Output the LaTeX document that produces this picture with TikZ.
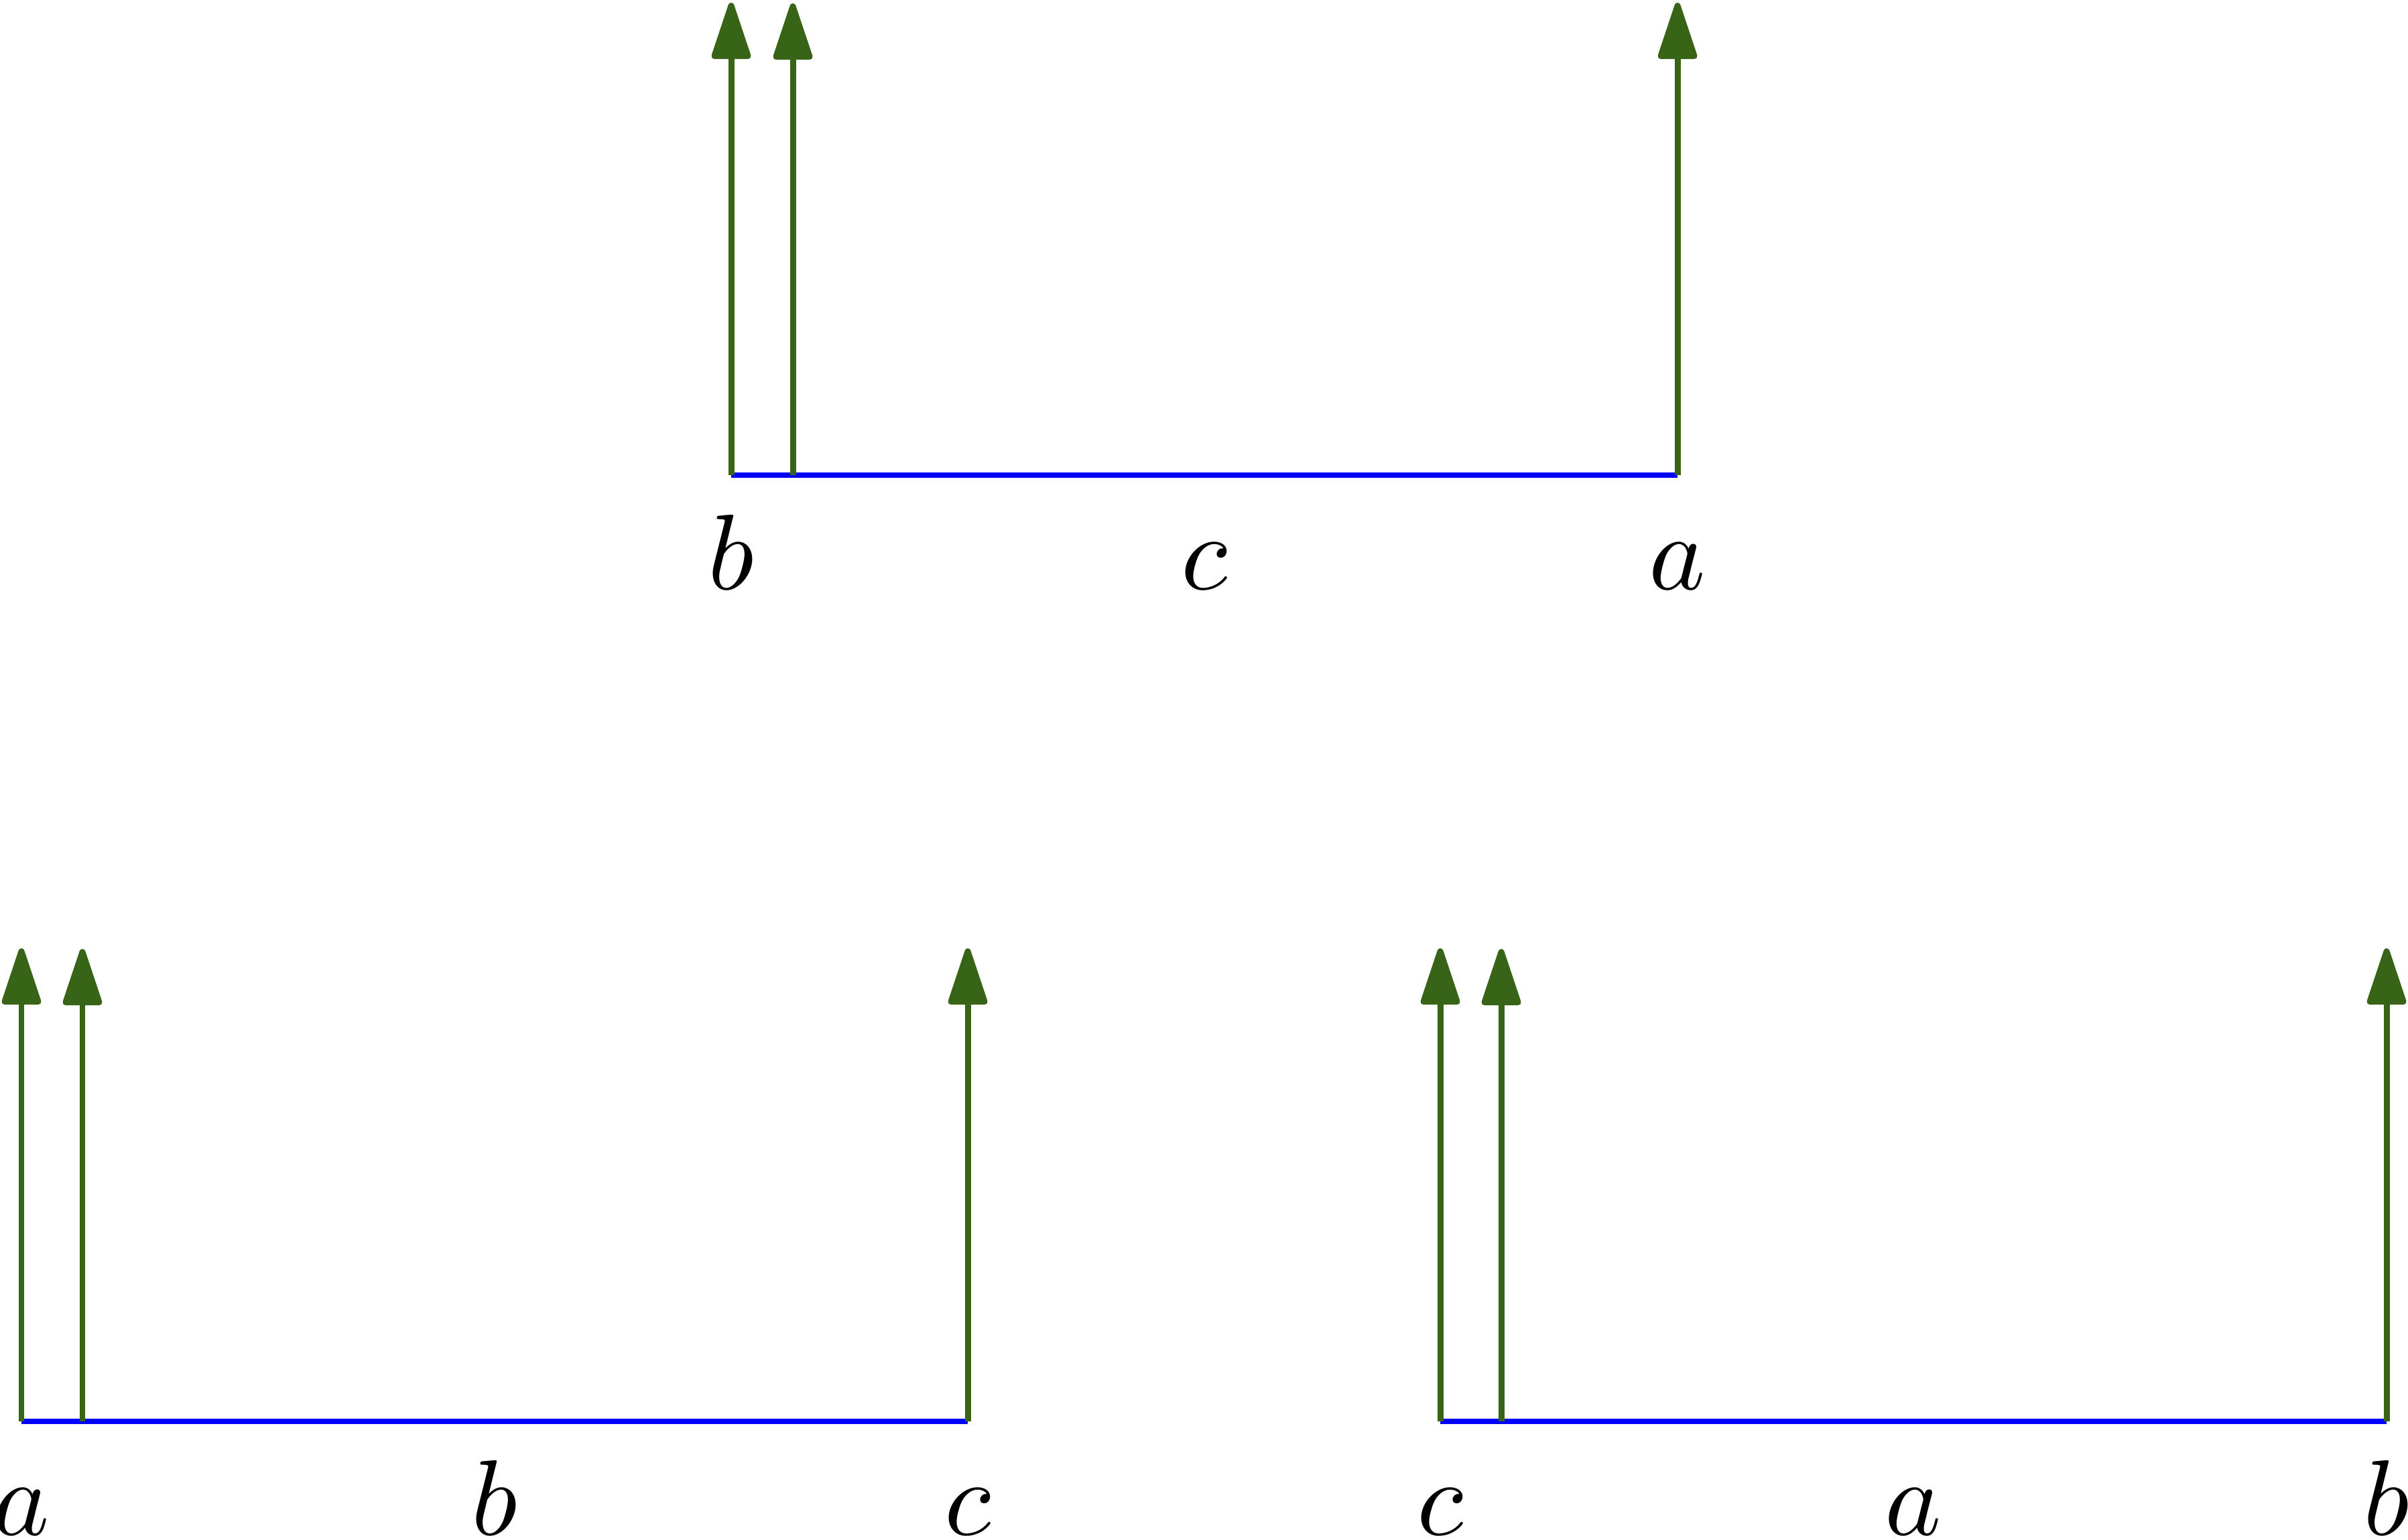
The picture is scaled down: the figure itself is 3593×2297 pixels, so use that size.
\documentclass[tikz,border=0pt]{standalone}
\usetikzlibrary{arrows.meta}
\definecolor{stemgreen}{RGB}{56,100,24}
\begin{document}
\begin{tikzpicture}[x=0.0625pt,y=-0.0625pt,
  segline/.style={draw=blue, line width=0.52pt},
  stemarrow/.style={draw=stemgreen, line width=0.56pt, -{Triangle[length=5.9pt,width=3.75pt,round]}},
  letterlab/.style={anchor=base, inner sep=0pt}]
\useasboundingbox (0,0) rectangle (3593,2297);
% top group
\coordinate (t1) at (1091,709);
\coordinate (t2) at (1183,709);
\coordinate (t3) at (2503,709);
\coordinate (t1u) at (1091,4);
\coordinate (t2u) at (1183,5);
\coordinate (t3u) at (2503,4);
\draw[segline] (t1) -- (t3);
\draw[stemarrow] (t1) -- (t1u);
\draw[stemarrow] (t2) -- (t2u);
\draw[stemarrow] (t3) -- (t3u);
\node[letterlab] (tb) at (1091,879) {$b$};
\node[letterlab] (tc) at (1797,879) {$c$};
\node[letterlab] (ta) at (2503,879) {$a$};
% bottom left group
\coordinate (l1) at (32,2121);
\coordinate (l2) at (123,2121);
\coordinate (l3) at (1444,2121);
\coordinate (l1u) at (32,1415);
\coordinate (l2u) at (123,1416);
\coordinate (l3u) at (1444,1415);
\draw[segline] (l1) -- (l3);
\draw[stemarrow] (l1) -- (l1u);
\draw[stemarrow] (l2) -- (l2u);
\draw[stemarrow] (l3) -- (l3u);
\node[letterlab] (la) at (32,2290) {$a$};
\node[letterlab] (lb) at (738,2290) {$b$};
\node[letterlab] (lc) at (1444,2290) {$c$};
% bottom right group
\coordinate (r1) at (2149,2121);
\coordinate (r2) at (2240,2121);
\coordinate (r3) at (3561,2121);
\coordinate (r1u) at (2149,1415);
\coordinate (r2u) at (2240,1416);
\coordinate (r3u) at (3561,1415);
\draw[segline] (r1) -- (r3);
\draw[stemarrow] (r1) -- (r1u);
\draw[stemarrow] (r2) -- (r2u);
\draw[stemarrow] (r3) -- (r3u);
\node[letterlab] (rc) at (2149,2290) {$c$};
\node[letterlab] (ra) at (2855,2290) {$a$};
\node[letterlab] (rb) at (3561,2290) {$b$};
\end{tikzpicture}
\end{document}
